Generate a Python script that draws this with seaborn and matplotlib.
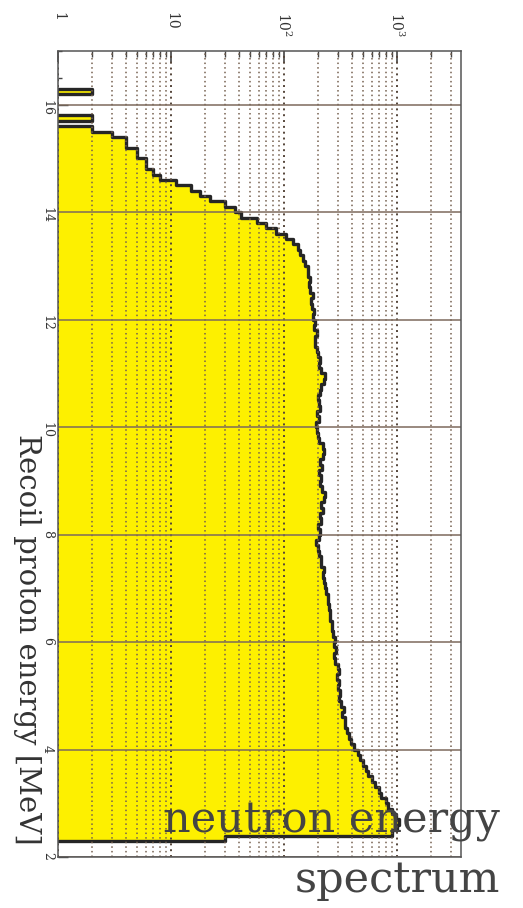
import numpy as np
import pandas as pd
import matplotlib
matplotlib.use("Agg")
import matplotlib.pyplot as plt
import seaborn as sns
from matplotlib.ticker import LogLocator, MultipleLocator, FixedLocator, NullFormatter

# ---- data ----
bin_start = 2.3      # MeV, left edge of first bin
bin_width = 0.1      # MeV
counts = [
    30, 900, 1000, 1050, 980, 900, 830,                      # 2.3 - 2.9
    800, 720, 690, 640, 600, 560, 530, 500, 470, 455,        # 3.x
    420, 390, 375, 365, 350, 345, 330, 340, 320, 310,        # 4.x
    315, 300, 305, 295, 310, 300, 285, 280, 290, 275,        # 5.x
    282, 270, 265, 268, 255, 258, 250, 245, 248, 235,        # 6.x
    230, 228, 220, 225, 212, 215, 205, 200, 192, 205,        # 7.x
    210, 200, 213, 208, 222, 215, 225, 232, 218, 210,        # 8.x
    212, 205, 218, 210, 220, 225, 222, 205, 200, 195,        # 9.x
    192, 205, 198, 210, 203, 200, 208, 215, 225, 230,        # 10.x
    215, 205, 210, 200, 198, 190, 187, 195, 185, 190,        # 11.x
    182, 186, 178, 174, 180, 172, 168, 170, 163, 165,        # 12.x
    155, 148, 140, 132, 120, 104, 85, 70, 58, 42,            # 13.x
    37, 30, 22, 18, 15, 11, 8, 7, 6, 6,                      # 14.x
    5, 5, 4, 4, 3, 2, 0, 2, 0, 0,                            # 15.x
    0, 0, 2, 0,                                              # 16.0 - 16.3
]
energy_ticks = [2, 4, 6, 8, 10, 12, 14, 16]
count_ticks = [1, 10, 100, 1000]
count_tick_labels = ["1", "10", "10$^2$", "10$^3$"]
y_label = "Recoil proton energy [MeV]"
caption_1 = "neutron energy"
caption_2 = "spectrum"

# ---- styling ----
sns.set_theme(style="white")
plt.rcParams["font.family"] = ["DejaVu Serif", "DejaVu Sans"]
plt.rcParams["mathtext.fontset"] = "dejavuserif"

n_bins = len(counts)
centers = bin_start + bin_width * (np.arange(n_bins) + 0.5)
df = pd.DataFrame({"energy": centers, "counts": counts})

W, H = 523, 908
fig = plt.figure(figsize=(W / 100, H / 100), dpi=100)
fig.patch.set_facecolor("white")
ax = fig.add_axes([58 / W, 1 - 857 / H, 403 / W, 806 / H])

sns.histplot(data=df, y="energy", weights="counts",
             binwidth=bin_width, binrange=(bin_start, bin_start + bin_width * n_bins),
             element="step", fill=True, color="#fdf000", alpha=1,
             edgecolor="#262626", linewidth=2.4, ax=ax, zorder=1)

ax.set_xscale("log")
ax.set_xlim(1, 3700)
ax.set_ylim(2, 17)
ax.set_xlabel("")

# x (counts) axis on top
ax.xaxis.set_major_locator(FixedLocator(count_ticks))
ax.set_xticklabels(count_tick_labels)
ax.xaxis.set_minor_locator(LogLocator(base=10, subs=np.arange(2, 10), numticks=30))
ax.xaxis.set_minor_formatter(NullFormatter())
ax.xaxis.tick_top()
ax.tick_params(axis="x", which="both", direction="in", top=True, bottom=False,
               labeltop=True, labelbottom=False, colors="#444")
ax.tick_params(axis="x", which="major", length=8, width=1.2, pad=28,
               labelsize=10, labelrotation=-90)
ax.tick_params(axis="x", which="minor", length=4, width=1.0)
plt.setp(ax.get_xticklabels(), va="top", ha="center", color="#333")

# y (energy) axis
ax.yaxis.set_major_locator(FixedLocator(energy_ticks))
ax.yaxis.set_minor_locator(MultipleLocator(0.5))
ax.tick_params(axis="y", which="both", direction="in", left=True, right=False, colors="#444")
ax.tick_params(axis="y", which="major", length=7, width=1.0, labelsize=9,
               labelrotation=-90, pad=3)
ax.tick_params(axis="y", which="minor", length=3, width=1.0)
plt.setp(ax.get_yticklabels(), color="#333")

# grid lines drawn over the filled histogram, as in the original
ax.grid(False)
xmin, xmax = ax.get_xlim()
major_x = [v for v in ax.xaxis.get_majorticklocs() if xmin <= v <= xmax]
minor_x = [v for v in ax.xaxis.get_minorticklocs() if xmin < v < xmax]
for v in minor_x:
    ax.axvline(v, color="#75604f", linestyle=(0, (1, 2)), linewidth=1.1, zorder=3)
for v in major_x:
    ax.axvline(v, color="#55453a", linestyle=(0, (1, 2)), linewidth=1.4, zorder=3)
for v in energy_ticks:
    ax.axhline(v, color="#7d6a5c", linestyle="-", linewidth=1.1, zorder=3)

for s in ax.spines.values():
    s.set_color("#555555")
    s.set_linewidth(1.1)
    s.set_zorder(5)

ax.set_ylabel(y_label, rotation=-90, fontsize=21, color="#333333", ha="center", va="center")
ax.yaxis.set_label_coords(-0.077, 0.27)

fig.text(500 / W, 1 - 833 / H, caption_1, ha="right", va="baseline",
         fontsize=31, color="#444444", zorder=10)
fig.text(500 / W, 1 - 892 / H, caption_2, ha="right", va="baseline",
         fontsize=31, color="#444444", zorder=10)

fig.savefig("out.png", dpi=100, facecolor="white")
